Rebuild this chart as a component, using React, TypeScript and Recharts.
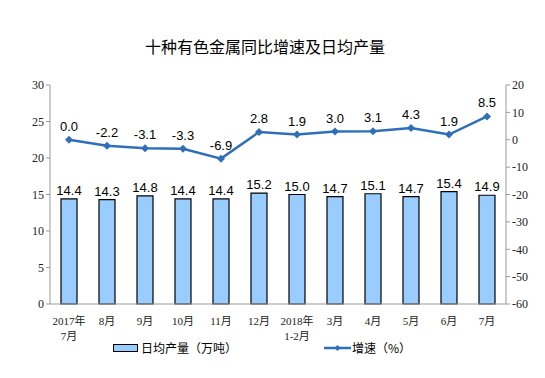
import { ComposedChart, Bar, Line, XAxis, YAxis, LabelList } from "recharts"

const months = ["2017年\n7月", "8月", "9月", "10月", "11月", "12月", "2018年\n1-2月", "3月", "4月", "5月", "6月", "7月"]
const dailyOutput = [14.4, 14.3, 14.8, 14.4, 14.4, 15.2, 15.0, 14.7, 15.1, 14.7, 15.4, 14.9]
const growth = [0.0, -2.2, -3.1, -3.3, -6.9, 2.8, 1.9, 3.0, 3.1, 4.3, 1.9, 8.5]
const leftTicks = [0, 5, 10, 15, 20, 25, 30]
const rightTicks = [-60, -50, -40, -30, -20, -10, 0, 10, 20]

const data = months.map((m, i) => ({ month: m, output: dailyOutput[i], growth: growth[i] }))

const LINE_COLOR = "#2f6fba"
const BAR_FILL = "#99ccff"
const numFont = "'Liberation Serif', 'DejaVu Serif', serif"
const catFont = "'Liberation Serif', 'Noto Sans CJK SC', serif"
const cjkFont = "'Noto Sans CJK SC', sans-serif"

function MonthTick(props: any) {
  const { x, y, payload } = props
  const lines = String(payload.value).split("\n")
  return (
    <g transform={`translate(${x},${y})`}>
      {lines.map((t, i) => (
        <text key={i} x={0} y={13 + i * 15} textAnchor="middle" fontSize={11} fontFamily={catFont} fill="#222">
          {t}
        </text>
      ))}
    </g>
  )
}

function Diamond(props: any) {
  const { cx, cy } = props
  if (cx == null || cy == null) return null
  const s = 4
  return <path d={`M${cx},${cy - s}L${cx + s},${cy}L${cx},${cy + s}L${cx - s},${cy}Z`} fill={LINE_COLOR} />
}

export default function App() {
  return (
    <div style={{ position: "absolute", left: 0, top: 0, width: 545, height: 378, background: "#fff" }}>
      <div
        style={{
          position: "absolute",
          left: 0,
          width: 530,
          top: 34,
          textAlign: "center",
          fontFamily: cjkFont,
          fontSize: 16,
          color: "#000",
        }}
      >
        十种有色金属同比增速及日均产量
      </div>
      <ComposedChart width={545} height={378} data={data} margin={{ top: 85, right: 0, bottom: 34, left: 20 }}>
        <XAxis
          dataKey="month"
          interval={0}
          tick={<MonthTick />}
          tickLine={false}
          axisLine={{ stroke: "#999" }}
          height={40}
        />
        <YAxis
          yAxisId="left"
          domain={[0, 30]}
          ticks={leftTicks}
          width={30}
          axisLine={{ stroke: "#999" }}
          tickLine={{ stroke: "#999" }}
          tickSize={4}
          tick={{ fontSize: 12, fontFamily: numFont, fill: "#222" }}
        />
        <YAxis
          yAxisId="right"
          orientation="right"
          domain={[-60, 20]}
          ticks={rightTicks}
          width={39}
          axisLine={{ stroke: "#999" }}
          tickLine={{ stroke: "#999" }}
          tickSize={4}
          tick={{ fontSize: 12, fontFamily: numFont, fill: "#222" }}
        />
        <Bar yAxisId="left" dataKey="output" barSize={16} fill={BAR_FILL} stroke="#000" strokeWidth={1.2} isAnimationActive={false}>
          <LabelList
            dataKey="output"
            position="top"
            offset={4}
            formatter={(v: any) => Number(v).toFixed(1)}
            style={{ fontSize: 13, fontFamily: "'Liberation Sans', Arial, sans-serif", fill: "#000" }}
          />
        </Bar>
        <Line
          yAxisId="right"
          dataKey="growth"
          stroke={LINE_COLOR}
          strokeWidth={2.5}
          dot={<Diamond />}
          activeDot={false}
          isAnimationActive={false}
        >
          <LabelList
            dataKey="growth"
            position="top"
            offset={9}
            formatter={(v: any) => Number(v).toFixed(1)}
            style={{ fontSize: 13, fontFamily: "'Liberation Sans', Arial, sans-serif", fill: "#000" }}
          />
        </Line>
      </ComposedChart>
      <div style={{ position: "absolute", left: 113, top: 339, display: "flex", alignItems: "center", fontFamily: cjkFont, fontSize: 12, color: "#000" }}>
        <div style={{ width: 23, height: 6, background: BAR_FILL, border: "1px solid #000", marginRight: 3 }} />
        日均产量（万吨）
      </div>
      <div style={{ position: "absolute", left: 324, top: 339, display: "flex", alignItems: "center", fontFamily: cjkFont, fontSize: 12, color: "#000" }}>
        <svg width={27} height={10} style={{ marginRight: 1 }}>
          <line x1={0} y1={5} x2={27} y2={5} stroke={LINE_COLOR} strokeWidth={2.5} />
          <path d="M13.5,2L16.5,5L13.5,8L10.5,5Z" fill={LINE_COLOR} />
        </svg>
        增速（%）
      </div>
    </div>
  )
}
